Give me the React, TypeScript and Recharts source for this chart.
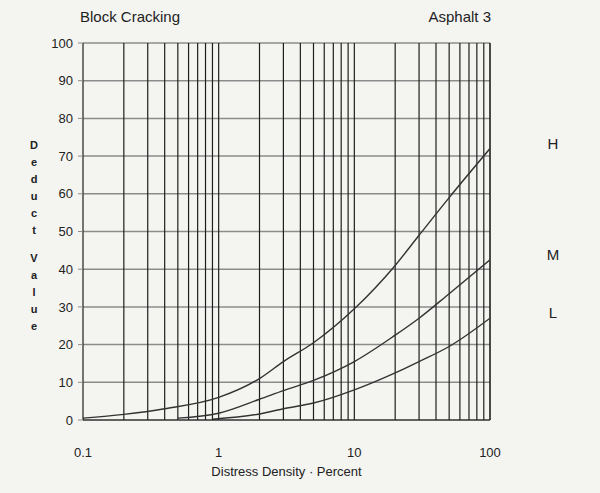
import { LineChart, Line, XAxis, YAxis, CartesianGrid, ReferenceLine, LabelList } from 'recharts'

// severity curves
const hDensity = [0.1, 0.2, 0.4, 1, 2, 3, 5, 10, 20, 30, 50, 100]
const hDeduct = [0.5, 1.5, 3, 6, 11, 15.5, 20.5, 29.5, 41, 49, 59, 72]

const mDensity = [0.5, 1, 2, 3, 5, 10, 20, 30, 50, 100]
const mDeduct = [0.5, 1.8, 5.5, 7.8, 10.5, 15.5, 22.5, 27, 33.5, 42.5]

const lDensity = [0.9, 2, 3, 5, 10, 20, 30, 50, 100]
const lDeduct = [0.2, 1.6, 3, 4.5, 8, 12.5, 15.5, 19.5, 27]

const xTicks = [0.1, 1, 10, 100]
const yTicks = [0, 10, 20, 30, 40, 50, 60, 70, 80, 90, 100]
const logGrid = [
  0.2, 0.3, 0.4, 0.5, 0.6, 0.7, 0.8, 0.9, 1,
  2, 3, 4, 5, 6, 7, 8, 9, 10,
  20, 30, 40, 50, 60, 70, 80, 90, 100,
]

const toPoints = (xs: number[], ys: number[]) => xs.map((x, i) => ({ x, y: ys[i] }))

const series = [
  { key: 'H', data: toPoints(hDensity, hDeduct) },
  { key: 'M', data: toPoints(mDensity, mDeduct) },
  { key: 'L', data: toPoints(lDensity, lDeduct) },
]

const ink = '#222'
const font = '"Liberation Sans", Arial, sans-serif'

function EndLabel(props: any) {
  const { x, y, index, count, name } = props
  if (index !== count - 1) return null
  return (
    <text x={x + 63} y={y} dy={0} textAnchor="middle" fontSize={15} fill={ink} fontFamily={font}>
      {name}
    </text>
  )
}

export default function App() {
  return (
    <div style={{ position: 'absolute', left: 0, top: 0, width: 600, height: 493, background: '#f4f4f1', fontFamily: font }}>
      <div style={{ position: 'absolute', left: 80, top: 8, fontSize: 15, color: ink }}>Block Cracking</div>
      <div style={{ position: 'absolute', right: 109, top: 8, fontSize: 15, color: ink }}>Asphalt 3</div>
      <div
        style={{
          position: 'absolute', left: 27, top: 137, width: 14, fontSize: 11, lineHeight: '17px',
          color: ink, textAlign: 'center', fontWeight: 'bold',
        }}
      >
        {'Deduct'.split('').map((c, i) => <div key={'a' + i}>{c}</div>)}
        <div style={{ height: 11 }} />
        {'Value'.split('').map((c, i) => <div key={'b' + i}>{c}</div>)}
      </div>

      <LineChart width={600} height={493} margin={{ top: 43, right: 110, bottom: 13, left: 0 }} style={{ position: 'absolute', left: 0, top: 0 }}>
        <CartesianGrid vertical={false} stroke="#8c8c8c" strokeWidth={1.5} />
        {logGrid.map(v => (
          <ReferenceLine key={v} x={v} stroke="#1e1e1e" strokeWidth={v === 100 ? 1.6 : 1.2} />
        ))}
        <XAxis
          dataKey="x"
          type="number"
          scale="log"
          domain={[0.1, 100]}
          ticks={xTicks}
          allowDataOverflow
          height={60}
          axisLine={{ stroke: '#1e1e1e', strokeWidth: 1.2 }}
          tickLine={false}
          tickMargin={22}
          tickFormatter={v => String(v)}
          tick={{ fill: ink, fontSize: 13, fontFamily: font }}
          label={{ value: 'Distress Density  · Percent', position: 'insideBottom', offset: 4, fill: ink, fontSize: 13, fontFamily: font }}
        />
        <YAxis
          type="number"
          domain={[0, 100]}
          ticks={yTicks}
          width={83}
          axisLine={{ stroke: '#1e1e1e', strokeWidth: 1.2 }}
          tickLine={{ stroke: '#8c8c8c' }}
          tickSize={5}
          tickMargin={5}
          tick={{ fill: ink, fontSize: 13, fontFamily: font }}
        />
        {series.map(s => (
          <Line
            key={s.key}
            data={s.data}
            dataKey="y"
            name={s.key}
            type="monotone"
            stroke="#333"
            strokeWidth={1.4}
            dot={false}
            isAnimationActive={false}
          >
            <LabelList dataKey="y" content={(p: any) => <EndLabel {...p} name={s.key} count={s.data.length} />} />
          </Line>
        ))}
      </LineChart>
    </div>
  )
}
